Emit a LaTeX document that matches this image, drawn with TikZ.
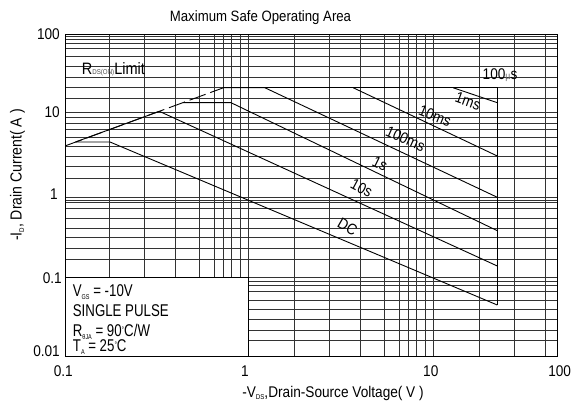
\documentclass[tikz,border=0pt]{standalone}
\usepackage{fontspec}
\setmainfont{Liberation Sans}
\newfontfamily\nf{Liberation Sans}[FakeStretch=0.88]
\newfontfamily\lf{Liberation Sans}[FakeStretch=0.78]
\newcommand\subs[1]{\raisebox{-0.3ex}{\fontsize{7}{7}\selectfont #1}}
\begin{document}
\begin{tikzpicture}[x=1pt,y=-1pt,
  grid/.style={black!80,line width=0.7pt},
  curve/.style={black,line width=0.9pt},
  lbl/.style={font=\nf\fontsize{15.5}{15.5}\selectfont,inner sep=0pt},
  ytick/.style={lbl,anchor=base east},
  xtick/.style={lbl,anchor=base},
  leg/.style={font=\lf\fontsize{17}{17}\selectfont,inner sep=0pt,anchor=base west}]
\useasboundingbox (0,0) rectangle (573,403);
\fill[white] (0,0) rectangle (573,403);
% grid
\foreach \x in {109.3,144,175,199.3,214.3,223.3,231.7,240.3,248.3,294.3,329.3,360,384.3,399.3,408.3,416.7,425,433.3,479.3,514.3,545}
  \draw[grid] (\x,34.3) -- (\x,356);
\foreach \y in {36.8,39.5,43,48.3,56.7,66.5,77.3,87.8,98.2,112.5,117.3,123.3,129.3,137,146,156.7,166.3,178.3,197.7,200.2,202.7,208.8,218.3,228,237.3,248.3,259.3,277.7,281,285,291.7,300,309.3,319.3,330.3,340.7}
  \draw[grid] (65.7,\y) -- (557.7,\y);
\draw[black,line width=1pt] (65.7,34.3) rectangle (557.7,356);
% curves
\coordinate (d0) at (65.7,145.7);
\coordinate (d1) at (223.3,87.8);
\draw[curve,dash pattern=on 17pt off 5pt] (d0) -- (d1);
\coordinate (s0) at (75.5,142);
\coordinate (p10s) at (159.3,111.3);
\coordinate (e10s) at (497.3,266);
\draw[curve] (s0) -- (p10s) -- (e10s);
\coordinate (hDC) at (110,142);
\coordinate (eDC) at (497.3,305);
\draw[curve] (s0) -- (hDC) -- (eDC);
\coordinate (a1s) at (183,102.7);
\coordinate (b1s) at (231,102.7);
\coordinate (e1s) at (497.3,230.7);
\draw[curve] (a1s) -- (b1s) -- (e1s);
\coordinate (b100) at (265,87.8);
\coordinate (e100) at (497.3,197.3);
\draw[curve] (d1) -- (b100) -- (e100);
\coordinate (a10) at (353.3,87.8);
\coordinate (e10) at (497.3,156);
\draw[curve] (a10) -- (e10);
\coordinate (a1m) at (453.3,87.8);
\coordinate (e1m) at (497.3,102.7);
\draw[curve] (a1m) -- (e1m);
\coordinate (c100u) at (497.3,87.8);
\draw[curve] (d1) -- (c100u) -- (eDC);
% legend box
\draw[black,line width=1pt,fill=white] (65.7,277.7) rectangle (248.3,356);
\node[leg] (l1) at (72.7,296.7) {V\subs{GS} = -10V};
\node[leg] (l2) at (72.7,316.7) {SINGLE PULSE};
\node[leg] (l3) at (72.7,336.7) {R\subs{θJA} = 90\raisebox{0.5ex}{\fontsize{8}{8}\selectfont°}C/W};
\node[leg] (l4) at (72.7,351.7) {T\subs{A} = 25\raisebox{0.5ex}{\fontsize{8}{8}\selectfont°}C};
% curve labels
\node[lbl,rotate=-20] (t1m) at (468,101) {1ms};
\node[lbl,rotate=-22] (t10m) at (435,116) {10ms};
\node[lbl,rotate=-24] (t100m) at (405.5,139) {100ms};
\node[lbl,rotate=-26] (t1s) at (380,163.5) {1s};
\node[lbl,rotate=-28] (t10s) at (361.7,188) {10s};
\node[lbl,rotate=-30] (tDC) at (347.5,226.7) {DC};
\node[lbl,anchor=base] (t100u) at (500,80) {100{\fontsize{10}{10}\selectfont\textcolor{black!60}{µ}}s};
\node[lbl,anchor=base west,font=\nf\fontsize{16.5}{16.5}\selectfont] (trds) at (81.7,75) {R{\fontsize{7}{7}\selectfont\textcolor{black!70}{DS(ON)}}Limit};
% ticks
\node[ytick] (y100) at (60,40) {100};
\node[ytick] (y10) at (60,117.3) {10};
\node[ytick] (y1) at (58,200) {1};
\node[ytick] (y01) at (62,283.3) {0.1};
\node[ytick] (y001) at (60,356.7) {0.01};
\node[xtick] (x01) at (63.3,376.7) {0.1};
\node[xtick] (x1) at (245,376.7) {1};
\node[xtick] (x10) at (430.8,376.7) {10};
\node[xtick] (x100) at (559.7,376.7) {100};
% titles
\node[lbl,anchor=base,font=\nf\fontsize{15}{15}\selectfont] (title) at (260.5,22) {Maximum Safe Operating Area};
\node[lbl,anchor=base] (xlab) at (333,397) {-V\subs{DS},Drain-Source Voltage( V )};
\node[lbl,rotate=90,anchor=base,font=\nf\fontsize{16}{16}\selectfont] (ylab) at (21.5,175) {-I\subs{D}, Drain Current( A )};
\end{tikzpicture}
\end{document}
